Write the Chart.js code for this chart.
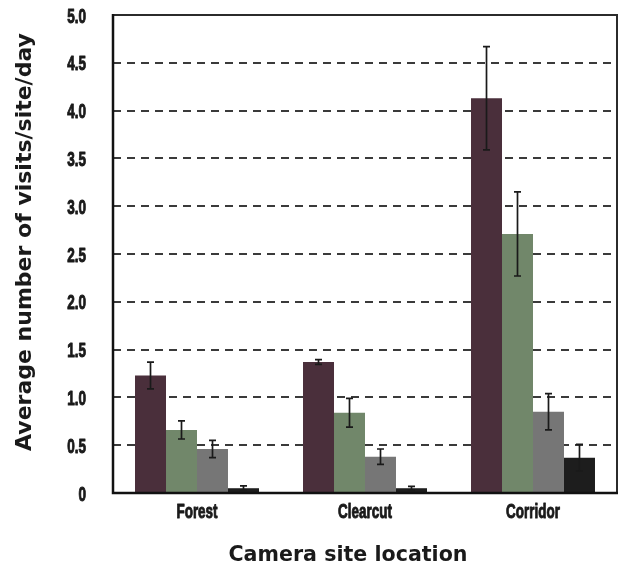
<!DOCTYPE html>
<html>
<head>
<meta charset="utf-8">
<script src="https://cdn.jsdelivr.net/npm/chart.js@4/dist/chart.umd.min.js"></script>
<style>
  html, body { margin: 0; padding: 0; background: #fff; }
  #wrap { width: 620px; height: 579px; }
</style>
</head>
<body>
<div id="wrap"><canvas id="c" width="620" height="579"></canvas></div>
<script>
// Site categories and mean visits per site per day (with standard errors)
const categories = ['Forest', 'Clearcut', 'Corridor'];

const seriesA = [1.23, 1.37, 4.13];
const seriesAErr = [0.14, 0.025, 0.54];

const seriesB = [0.66, 0.84, 2.71];
const seriesBErr = [0.095, 0.15, 0.44];

const seriesC = [0.46, 0.38, 0.85];
const seriesCErr = [0.09, 0.08, 0.19];

const seriesD = [0.05, 0.05, 0.37];
const seriesDErr = [0.025, 0.02, 0.14];

const yTickValues = [0, 0.5, 1, 1.5, 2, 2.5, 3, 3.5, 4, 4.5, 5];
const yTickLabels = ['0', '0.5', '1.0', '1.5', '2.0', '2.5', '3.0', '3.5', '4.0', '4.5', '5.0'];

const xTitle = 'Camera site location';
const yTitle = 'Average number of visits/site/day';

const tickFont = '"Liberation Sans", Arial, sans-serif';
const titleFont = '"DejaVu Sans", "Noto Sans", sans-serif';
const textColor = '#1a1a1a';

// Frame around the plot area: heavy left/bottom axes, lighter top/right
const framePlugin = {
  id: 'frame',
  afterDatasetsDraw(chart) {
    const { ctx, chartArea: a } = chart;
    ctx.save();
    ctx.strokeStyle = '#2b2b2b';
    ctx.lineWidth = 2;
    ctx.strokeRect(a.left, a.top, a.right - a.left, a.bottom - a.top);
    ctx.strokeStyle = '#111';
    ctx.lineWidth = 2.5;
    ctx.beginPath();
    ctx.moveTo(a.left, a.top - 1);
    ctx.lineTo(a.left, a.bottom);
    ctx.lineTo(a.right + 1, a.bottom);
    ctx.stroke();
    ctx.restore();
  }
};

// Error whiskers with end caps, positioned through the y scale
const errorBarPlugin = {
  id: 'errorBars',
  afterDatasetsDraw(chart) {
    const { ctx } = chart;
    const y = chart.scales.y;
    ctx.save();
    ctx.strokeStyle = '#1a1a1a';
    ctx.lineWidth = 1.7;
    chart.data.datasets.forEach((ds, di) => {
      const meta = chart.getDatasetMeta(di);
      meta.data.forEach((bar, i) => {
        const v = ds.data[i];
        const e = ds.errors[i];
        const x = bar.x;
        const yTop = y.getPixelForValue(v + e);
        const yBot = y.getPixelForValue(Math.max(0, v - e));
        const cap = 3.5;
        ctx.beginPath();
        ctx.moveTo(x, yTop); ctx.lineTo(x, yBot);
        ctx.moveTo(x - cap, yTop); ctx.lineTo(x + cap, yTop);
        ctx.moveTo(x - cap, yBot); ctx.lineTo(x + cap, yBot);
        ctx.stroke();
      });
    });
    ctx.restore();
  }
};

// Narrow, heavy tick labels (horizontally compressed), placed from the scales
function narrowText(ctx, text, x, y, align, squeeze) {
  ctx.save();
  ctx.translate(x, y);
  ctx.scale(squeeze, 1);
  ctx.textAlign = align;
  ctx.fillText(text, 0, 0);
  ctx.strokeText(text, 0, 0);
  ctx.restore();
}

const labelPlugin = {
  id: 'labels',
  afterDraw(chart) {
    const { ctx, chartArea: a } = chart;
    const xs = chart.scales.x;
    const ys = chart.scales.y;
    ctx.save();
    ctx.fillStyle = textColor;
    ctx.strokeStyle = textColor;
    ctx.lineWidth = 1;
    ctx.lineJoin = 'round';
    ctx.font = 'bold 20.5px ' + tickFont;
    ctx.textBaseline = 'middle';
    yTickValues.forEach((v, i) => {
      narrowText(ctx, yTickLabels[i], a.left - 27, ys.getPixelForValue(v) + 2, 'right', 0.66);
    });
    ctx.textBaseline = 'alphabetic';
    ctx.font = 'bold 21px ' + tickFont;
    categories.forEach((c, i) => {
      narrowText(ctx, c, xs.getPixelForValue(i), a.bottom + 25, 'center', 0.64);
    });

    // Axis titles
    ctx.font = 'bold 20.6px ' + titleFont;
    ctx.textAlign = 'center';
    ctx.textBaseline = 'middle';
    ctx.fillText(xTitle, 348, 556);

    ctx.font = 'bold 22px ' + titleFont;
    ctx.translate(25, 242);
    ctx.rotate(-Math.PI / 2);
    ctx.fillText(yTitle, 0, 0);
    ctx.restore();
  }
};

new Chart(document.getElementById('c'), {
  type: 'bar',
  data: {
    labels: categories,
    datasets: [
      { label: 'A', data: seriesA, errors: seriesAErr, backgroundColor: '#4a2f3b' },
      { label: 'B', data: seriesB, errors: seriesBErr, backgroundColor: '#71876a' },
      { label: 'C', data: seriesC, errors: seriesCErr, backgroundColor: '#767676' },
      { label: 'D', data: seriesD, errors: seriesDErr, backgroundColor: '#1d1d1d' }
    ]
  },
  options: {
    responsive: false,
    animation: false,
    devicePixelRatio: 1,
    layout: { padding: { top: 15, right: 3, bottom: 0, left: 0 } },
    datasets: { bar: { categoryPercentage: 0.738, barPercentage: 1.0, borderWidth: 0 } },
    plugins: {
      legend: { display: false },
      tooltip: { enabled: false }
    },
    scales: {
      x: {
        grid: { display: false, drawTicks: false },
        border: { display: false },
        ticks: { display: false },
        afterFit(scale) {
          scale.height = 86;
          scale.paddingLeft = 0; scale.paddingRight = 0;
        }
      },
      y: {
        min: 0,
        max: 5,
        afterBuildTicks(scale) {
          scale.ticks = yTickValues.map(v => ({ value: v }));
        },
        grid: {
          drawTicks: false,
          lineWidth: 2,
          color: ctx => (ctx.tick && (ctx.tick.value === 0 || ctx.tick.value === 5)) ? 'rgba(0,0,0,0)' : '#3a3a3a'
        },
        border: { display: false, dash: [8, 6] },
        ticks: { display: false },
        afterFit(scale) {
          scale.width = 113;
          scale.paddingTop = 0; scale.paddingBottom = 0;
        }
      }
    }
  },
  plugins: [framePlugin, errorBarPlugin, labelPlugin]
});
</script>
</body>
</html>
